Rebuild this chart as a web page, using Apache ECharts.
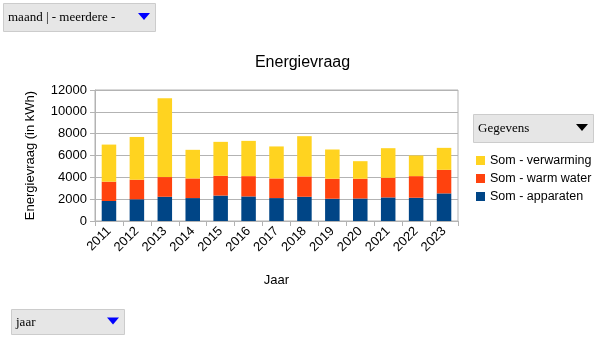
<!DOCTYPE html>
<html><head><meta charset="utf-8">
<script src="https://cdn.jsdelivr.net/npm/echarts@6/dist/echarts.min.js"></script>
<style>html,body{margin:0;padding:0;background:#fff}#c{width:605px;height:340px}</style>
</head><body><div id="c"></div>
<script>
var categories = ['2011','2012','2013','2014','2015','2016','2017','2018','2019','2020','2021','2022','2023'];
var apparaten = [1830, 1990, 2220, 2100, 2330, 2250, 2100, 2220, 2040, 2060, 2160, 2130, 2530];
var warmWater = [1770, 1790, 1800, 1800, 1810, 1860, 1800, 1860, 1830, 1810, 1800, 1980, 2160];
var verwarming = [3400, 3920, 7220, 2620, 3110, 3230, 2930, 3690, 2680, 1610, 2710, 1890, 2010];
var seriesNames = ['Som - apparaten', 'Som - warm water', 'Som - verwarming'];
var yTicks = {min: 0, max: 12000, interval: 2000};

var chart = echarts.init(document.getElementById('c'), null, {renderer: 'canvas'});
var font = 'Liberation Sans, Arial, sans-serif';
var serif = 'Liberation Serif, Times New Roman, serif';
function box(x, y, w, h, label, triColor) {
  return [
    {type: 'rect', shape: {x: x + 0.5, y: y + 0.5, width: w, height: h}, style: {fill: '#e6e6e6', stroke: '#cccccc', lineWidth: 1}},
    {type: 'text', style: {x: x + 5, y: y + h / 2 + 1, text: label, font: '13px ' + serif, fill: '#000', verticalAlign: 'middle'}},
    {type: 'polygon', shape: {points: [[x + w - 17, y + h / 2 - 4], [x + w - 5, y + h / 2 - 4], [x + w - 11, y + h / 2 + 3]]}, style: {fill: triColor}}
  ];
}
var graphics = [].concat(
  box(3, 3, 152, 28, 'maand | - meerdere -', '#0000ff'),
  box(473, 114, 120, 28, 'Gegevens', '#000000'),
  box(11, 309, 113, 25, 'jaar', '#0000ff')
);
chart.setOption({
  animation: false,
  title: {text: 'Energievraag', left: 'center', top: 50, textStyle: {fontFamily: font, fontSize: 16, fontWeight: 'normal', color: '#000'}},
  grid: {left: 95, right: 147, top: 90, bottom: 119, show: true, borderColor: '#b3b3b3', borderWidth: 1},
  legend: {orient: 'vertical', left: 471, top: 149, itemWidth: 9, itemHeight: 9, itemGap: 5, icon: 'rect',
    data: [seriesNames[2], seriesNames[1], seriesNames[0]],
    textStyle: {fontFamily: font, fontSize: 12.5, color: '#000'}},
  xAxis: {type: 'category', data: categories, name: 'Jaar', nameLocation: 'middle', nameGap: 53,
    nameTextStyle: {fontFamily: font, fontSize: 13, color: '#000'},
    axisLine: {lineStyle: {color: '#b3b3b3'}}, axisTick: {show: true, length: 5, lineStyle: {color: '#b3b3b3'}},
    axisLabel: {rotate: 45, fontFamily: font, fontSize: 13, color: '#000', margin: 8}},
  yAxis: {type: 'value', min: yTicks.min, max: yTicks.max, interval: yTicks.interval,
    name: 'Energievraag (in kWh)', nameLocation: 'middle', nameGap: 58,
    nameTextStyle: {fontFamily: font, fontSize: 13, color: '#000'},
    axisLine: {show: true, lineStyle: {color: '#b3b3b3'}}, axisTick: {show: true, length: 5, lineStyle: {color: '#b3b3b3'}},
    splitLine: {lineStyle: {color: '#b3b3b3'}},
    axisLabel: {fontFamily: font, fontSize: 13, color: '#000', margin: 8, formatter: function (v) { return String(v); }}},
  series: [
    {name: seriesNames[0], type: 'bar', stack: 't', data: apparaten, barWidth: '52%', itemStyle: {color: '#004586'}},
    {name: seriesNames[1], type: 'bar', stack: 't', data: warmWater, itemStyle: {color: '#ff420e'}},
    {name: seriesNames[2], type: 'bar', stack: 't', data: verwarming, itemStyle: {color: '#ffd320'}}
  ],
  graphic: graphics
});
</script></body></html>
